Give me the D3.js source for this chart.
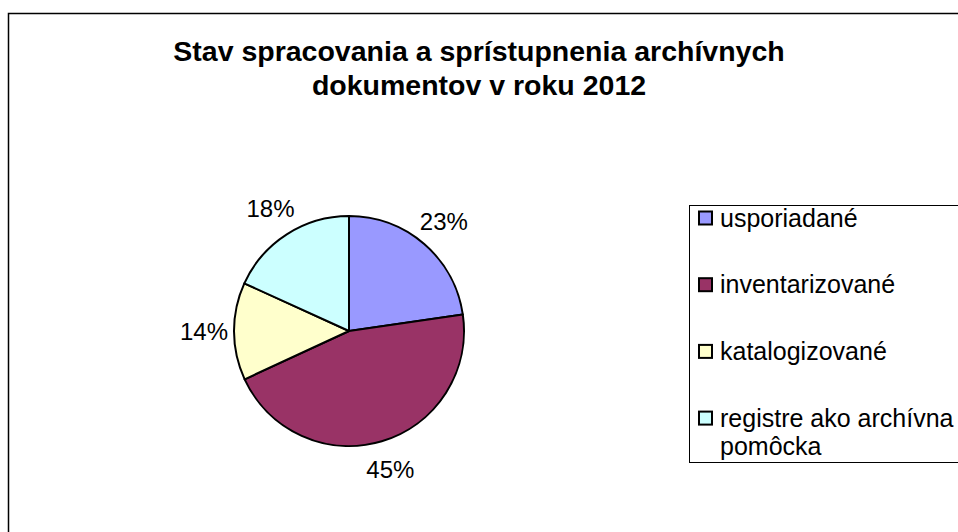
<!DOCTYPE html>
<html>
<head>
<meta charset="utf-8">
<script src="https://cdn.jsdelivr.net/npm/d3@7"></script>
<style>
  body { margin: 0; background: #fff; }
  svg { display: block; font-family: "Liberation Sans", Arial, sans-serif; }
</style>
</head>
<body>
<div id="chart"></div>
<script>
// Data (shares, in percent)
const categories = ["usporiadané", "inventarizované", "katalogizované", "registre ako archívna pomôcka"];
const shares = [22.7, 45.4, 13.7, 18.2];
const sliceColors = ["#9999FF", "#993366", "#FFFFCC", "#CCFFFF"];
const titleLines = ["Stav spracovania a sprístupnenia archívnych", "dokumentov v roku 2012"];
const legendLines = [["usporiadané"], ["inventarizované"], ["katalogizované"], ["registre ako archívna", "pomôcka"]];

const width = 958, height = 532;

const svg = d3.select("#chart")
  .append("svg")
  .attr("width", width)
  .attr("height", height);

// outer chart frame (runs off the right and bottom edge)
svg.append("rect")
  .attr("x", 8.5)
  .attr("y", 13.5)
  .attr("width", 1200)
  .attr("height", 1200)
  .attr("fill", "#fff")
  .attr("stroke", "#000")
  .attr("stroke-width", 1.5);

// title
svg.append("text")
  .attr("x", 479)
  .attr("y", 61)
  .attr("text-anchor", "middle")
  .attr("font-size", "28.5px")
  .attr("font-weight", "bold")
  .selectAll("tspan")
  .data(titleLines)
  .enter()
  .append("tspan")
  .attr("x", 479)
  .attr("dy", (d, i) => i === 0 ? 0 : 34)
  .text(d => d);

// pie
const cx = 349, cy = 331, radius = 115;
const data = categories.map((c, i) => ({ name: c, value: shares[i] }));
const total = d3.sum(shares);

const color = d3.scaleOrdinal()
  .domain(categories)
  .range(sliceColors);

const pie = d3.pie()
  .value(d => d.value)
  .sort(null);

const arc = d3.arc()
  .innerRadius(0)
  .outerRadius(radius);

const labelArc = d3.arc()
  .innerRadius(radius + 30)
  .outerRadius(radius + 30);

const g = svg.append("g")
  .attr("transform", `translate(${cx}, ${cy})`);

const arcs = pie(data);

g.selectAll("path")
  .data(arcs)
  .enter()
  .append("path")
  .attr("d", arc)
  .attr("fill", d => color(d.data.name))
  .attr("stroke", "#000")
  .attr("stroke-width", 2)
  .attr("stroke-linejoin", "round");

const pct = d3.format(".0%");
g.selectAll("text.label")
  .data(arcs)
  .enter()
  .append("text")
  .attr("class", "label")
  .attr("x", d => labelArc.centroid(d)[0])
  .attr("y", d => labelArc.centroid(d)[1])
  .attr("dy", ".35em")
  .attr("text-anchor", "middle")
  .attr("font-size", "24px")
  .attr("fill", "#000")
  .text(d => pct(d.data.value / total));

// legend
const legend = svg.append("g")
  .attr("transform", "translate(689, 205)");

legend.append("rect")
  .attr("x", 0.5)
  .attr("y", 0.5)
  .attr("width", 400)
  .attr("height", 257)
  .attr("fill", "#fff")
  .attr("stroke", "#000")
  .attr("stroke-width", 1);

const item = legend.selectAll("g.item")
  .data(categories)
  .enter()
  .append("g")
  .attr("class", "item")
  .attr("transform", (d, i) => `translate(0, ${13 + i * 66.7})`);

item.append("rect")
  .attr("x", 10)
  .attr("y", -6.5)
  .attr("width", 13)
  .attr("height", 13)
  .attr("fill", d => color(d))
  .attr("stroke", "#000")
  .attr("stroke-width", 2);

item.append("text")
  .attr("x", 31)
  .attr("y", 0)
  .attr("font-size", "25px")
  .attr("fill", "#000")
  .selectAll("tspan")
  .data((d, i) => legendLines[i])
  .enter()
  .append("tspan")
  .attr("x", 31)
  .attr("dy", (d, i) => i === 0 ? ".35em" : "1.13em")
  .text(d => d);
</script>
</body>
</html>
